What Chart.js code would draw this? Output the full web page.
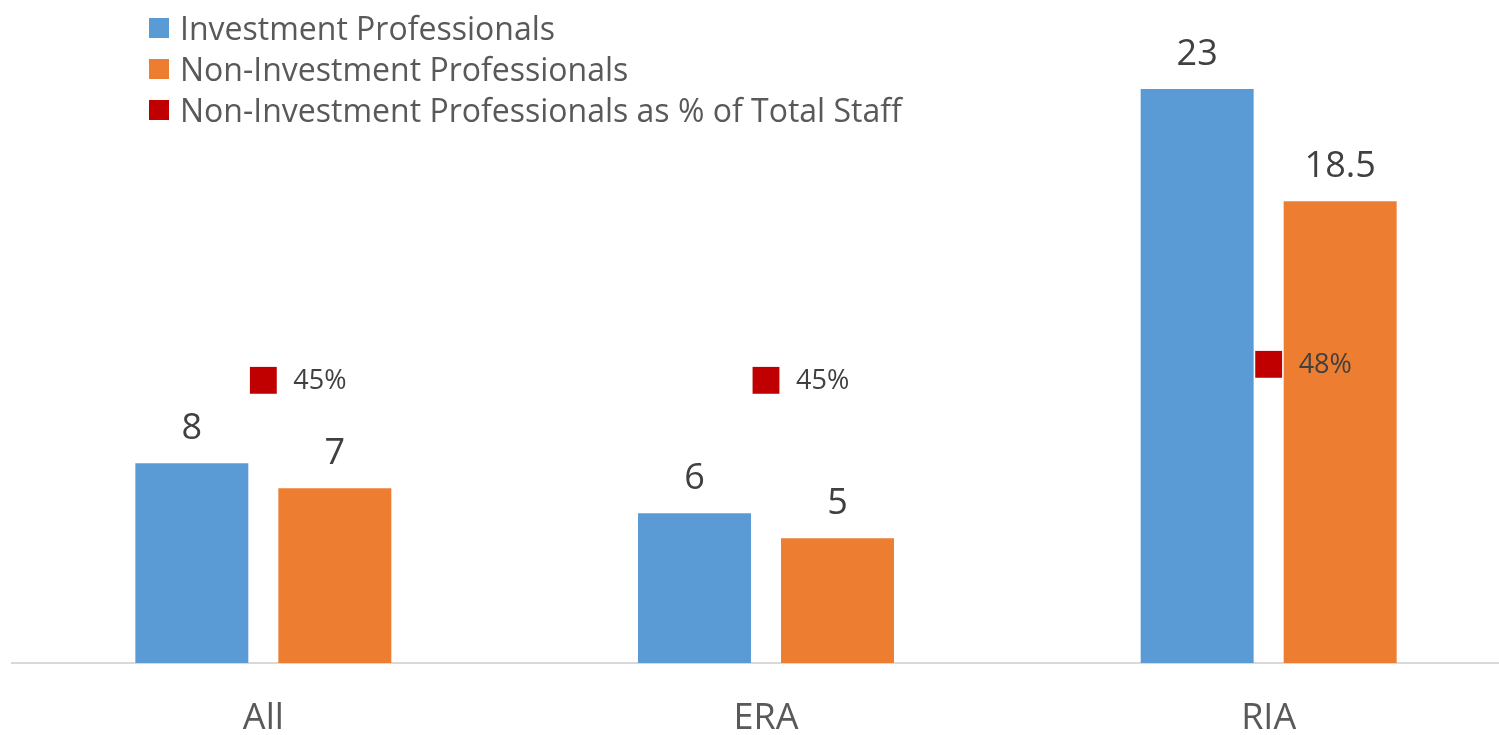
<!DOCTYPE html>
<html>
<head>
<meta charset="utf-8">
<script src="https://cdn.jsdelivr.net/npm/chart.js@4"></script>
<style>
  html, body { margin: 0; padding: 0; background: #fff; overflow: hidden; }
  #wrap { position: relative; width: 1530px; height: 735px; }
  #legend { position: absolute; left: 149px; top: 7px; font-family: "Open Sans", sans-serif; font-size: 32px; color: #595959; }
  #legend .row { display: flex; align-items: center; height: 41px; }
  #legend .box { width: 20px; height: 20px; margin-right: 11px; }
</style>
</head>
<body>
<div id="wrap">
  <canvas id="staff-chart" width="1530" height="735"></canvas>
  <div id="legend"></div>
</div>
<script>
const categories = ["All", "ERA", "RIA"];
const investmentPros = [8, 6, 23];
const nonInvestmentPros = [7, 5, 18.5];
const nonInvestmentPct = [45, 45, 48];

Chart.defaults.font.family = "'Open Sans', sans-serif";

// value labels (no datalabels plugin available offline)
const valueLabels = {
  id: "valueLabels",
  afterDatasetsDraw(chart) {
    const ctx = chart.ctx;
    ctx.save();
    chart.data.datasets.forEach((ds, i) => {
      const meta = chart.getDatasetMeta(i);
      meta.data.forEach((el, j) => {
        const v = ds.data[j];
        ctx.fillStyle = "#404040";
        if (ds.type === "line") {
          ctx.font = "27px 'Open Sans', sans-serif";
          ctx.textAlign = "left";
          ctx.textBaseline = "middle";
          ctx.fillText(v + "%", el.x + 30, el.y + 1);
        } else {
          ctx.font = "36px 'Open Sans', sans-serif";
          ctx.textAlign = "center";
          ctx.textBaseline = "alphabetic";
          ctx.fillText(String(v), el.x, el.y - 24);
        }
      });
    });
    ctx.restore();
  },
};

const staffChart = new Chart(document.getElementById("staff-chart"), {
  type: "bar",
  data: {
    labels: categories,
    datasets: [
      {
        label: "Investment Professionals",
        backgroundColor: "#5B9BD5",
        data: investmentPros,
        categoryPercentage: 0.569,
        barPercentage: 0.79,
        yAxisID: "y",
      },
      {
        label: "Non-Investment Professionals",
        backgroundColor: "#ED7D31",
        data: nonInvestmentPros,
        categoryPercentage: 0.569,
        barPercentage: 0.79,
        yAxisID: "y",
      },
      {
        type: "line",
        label: "Non-Investment Professionals as % of Total Staff",
        data: nonInvestmentPct,
        showLine: false,
        pointStyle: "rect",
        pointRadius: 19,
        pointHoverRadius: 19,
        pointBorderWidth: 0,
        backgroundColor: "#C00000",
        borderColor: "#C00000",
        yAxisID: "y1",
      },
    ],
  },
  options: {
    responsive: false,
    animation: false,
    layout: { autoPadding: false, padding: { left: 12, right: 10, top: 39, bottom: 0 } },
    plugins: {
      legend: { display: false },
      tooltip: { enabled: false },
    },
    scales: {
      x: {
        grid: { display: false, drawTicks: false },
        border: { display: true, color: "#D9D9D9", width: 2 },
        ticks: { color: "#595959", font: { size: 36 }, padding: 34 },
        afterFit(scale) {
          scale.height = 72;
        },
      },
      y: { display: false, min: 0, max: 25 },
      y1: { display: false, min: -8, max: 109 },
    },
  },
  plugins: [valueLabels],
});

// html legend built from the chart's datasets
const legendEl = document.getElementById("legend");
staffChart.data.datasets.forEach((ds) => {
  const row = document.createElement("div");
  row.className = "row";
  const box = document.createElement("span");
  box.className = "box";
  box.style.background = ds.backgroundColor;
  const txt = document.createElement("span");
  txt.textContent = ds.label;
  row.appendChild(box);
  row.appendChild(txt);
  legendEl.appendChild(row);
});
</script>
</body>
</html>
